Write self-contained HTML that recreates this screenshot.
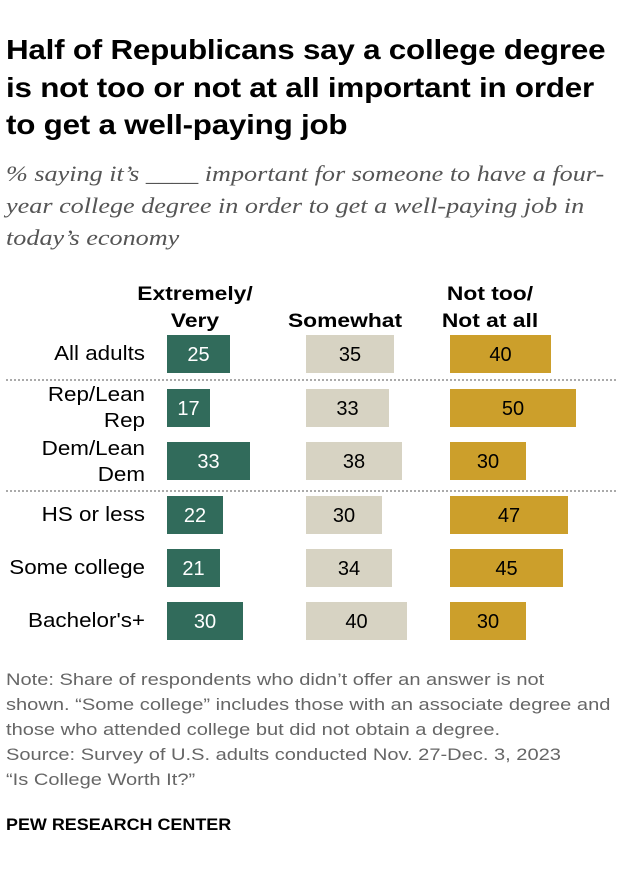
<!DOCTYPE html>
<html><head><meta charset="utf-8"><style>
body{margin:0;background:#fff;width:620px;height:874px;position:relative;font-family:"Liberation Sans",Arial,sans-serif;color:#000;overflow:hidden}
.a{position:absolute}
h1{position:absolute;left:6px;top:31px;margin:0;font-size:28px;line-height:37.5px;font-weight:bold;letter-spacing:-0.2px;width:640px;white-space:nowrap;transform:scaleX(1.12);transform-origin:left top}
.sub{left:6px;top:158px;font-family:"Liberation Serif",serif;font-style:italic;font-size:22px;line-height:32px;color:#555;width:640px;white-space:nowrap;transform:scaleX(1.19);transform-origin:left top}
.hd{font-weight:bold;font-size:19.5px;text-align:center;line-height:27px;transform:scaleX(1.17)}
.lab{font-size:20px;text-align:right;width:141px;left:4px;line-height:26px;white-space:nowrap;transform:scaleX(1.12);transform-origin:right top}
.bar{position:absolute;height:38px;font-size:20px;text-align:center;line-height:40px}
.g{background:#316b5b;color:#fff}.b{background:#d7d3c3}.y{background:#cc9f2b}
.dot{left:6px;width:610px;border-top:2px dotted #aaa;height:0}
.note{left:6px;top:667px;font-size:17px;line-height:25px;color:#666;width:640px;white-space:nowrap;transform:scaleX(1.18);transform-origin:left top}
</style></head><body>
<h1>Half of Republicans say a college degree<br>is not too or not at all important in order<br>to get a well-paying job</h1>
<div class="a sub">% saying it’s ____ important for someone to have a four-<br>year college degree in order to get a well-paying job in<br>today’s economy</div>
<div class="a hd" style="left:130px;top:281px;width:130px">Extremely/<br>Very</div>
<div class="a hd" style="left:280px;top:308px;width:130px">Somewhat</div>
<div class="a hd" style="left:425px;top:281px;width:130px">Not too/<br>Not at all</div>

<div class="a lab" style="top:341px">All adults</div>
<div class="bar g" style="left:167px;top:335px;width:63px">25</div>
<div class="bar b" style="left:306px;top:335px;width:88px">35</div>
<div class="bar y" style="left:450px;top:335px;width:101px">40</div>
<div class="a dot" style="top:379px"></div>

<div class="a lab" style="top:382px">Rep/Lean<br>Rep</div>
<div class="bar g" style="left:167px;top:389px;width:43px">17</div>
<div class="bar b" style="left:306px;top:389px;width:83px">33</div>
<div class="bar y" style="left:450px;top:389px;width:126px">50</div>

<div class="a lab" style="top:436px">Dem/Lean<br>Dem</div>
<div class="bar g" style="left:167px;top:442px;width:83px">33</div>
<div class="bar b" style="left:306px;top:442px;width:96px">38</div>
<div class="bar y" style="left:450px;top:442px;width:76px">30</div>
<div class="a dot" style="top:490px"></div>

<div class="a lab" style="top:502px">HS or less</div>
<div class="bar g" style="left:167px;top:496px;width:56px">22</div>
<div class="bar b" style="left:306px;top:496px;width:76px">30</div>
<div class="bar y" style="left:450px;top:496px;width:118px">47</div>

<div class="a lab" style="top:555px">Some college</div>
<div class="bar g" style="left:167px;top:549px;width:53px">21</div>
<div class="bar b" style="left:306px;top:549px;width:86px">34</div>
<div class="bar y" style="left:450px;top:549px;width:113px">45</div>

<div class="a lab" style="top:608px">Bachelor's+</div>
<div class="bar g" style="left:167px;top:602px;width:76px">30</div>
<div class="bar b" style="left:306px;top:602px;width:101px">40</div>
<div class="bar y" style="left:450px;top:602px;width:76px">30</div>

<div class="a note">Note: Share of respondents who didn’t offer an answer is not<br>shown. “Some college” includes those with an associate degree and<br>those who attended college but did not obtain a degree.<br>Source: Survey of U.S. adults conducted Nov. 27-Dec. 3, 2023<br>“Is College Worth It?”</div>
<div class="a" style="left:6px;top:815px;font-size:17px;font-weight:bold;line-height:20px;transform:scaleX(1.055);transform-origin:left top">PEW RESEARCH CENTER</div>
</body></html>
